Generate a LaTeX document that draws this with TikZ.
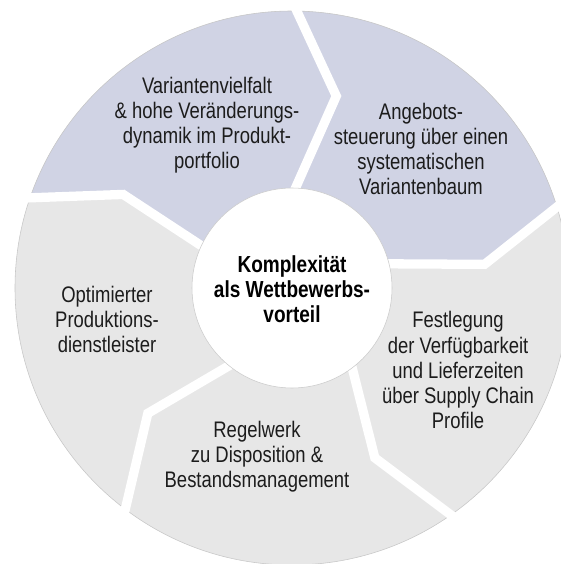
\documentclass[tikz,border=0pt]{standalone}
\usepackage{fontspec}
\setmainfont{Liberation Sans}[FakeStretch=0.82]
\usetikzlibrary{calc}

\definecolor{segblue}{RGB}{208,211,228}
\definecolor{seggrey}{RGB}{231,231,231}
\definecolor{txtdark}{RGB}{28,28,28}

\tikzset{
	seglabel/.style={align=center, text=txtdark, font=\fontsize{16}{17.8}\selectfont},
	corelabel/.style={align=center, text=black, font=\fontsize{16.5}{17.8}\selectfont\bfseries},
	gapline/.style={white, line width=6.6pt, line join=miter},
}

\begin{document}
\begin{tikzpicture}[x=0.025cm, y=0.025cm]
			%%%%% START %%%%%
			\useasboundingbox (-292, -276) rectangle (268, 288);
			
			% ring, grey first, then the two blue arrows on top
			\fill[seggrey] (0, 0) circle (277);
			\begin{scope}
				\clip (0, 0) circle (277);
				\fill[segblue] (0, 0) -- (155:100) -- (151:193) -- (161:277) -- (130:450) -- (90:450) -- (50:450) -- (17:277) -- (7:194) -- (14:100) -- cycle;
			\end{scope}
			\draw[black!22, line width=0.4pt] (0, 0) circle (277);
			
			% white chevron gaps between the arrows
			\foreach \a/\b/\r/\c in {88/77/197/89, 14/7/194/17, -53/-64/189/-55, -129/-139/191/-127, 155/151/193/161}
				\draw[gapline] ($(\b:\r)!1.15!(\a:100)$) -- (\b:\r) -- ($(\b:\r)!1.3!(\c:277)$);
			
			% hub
			\draw[fill=white, draw=black!20, line width=0.4pt] (0, 0) circle (100);
			
			\node[corelabel] (hub) at (0, -1) {Komplexität\\als Wettbewerbs-\\vorteil};
			
			\node[seglabel] (vielfalt) at (-85, 163) {Variantenvielfalt\\\& hohe Veränderungs-\\dynamik im Produkt-\\portfolio};
			\node[seglabel] (angebot) at (129, 139) {Angebots-\\steuerung über einen\\systematischen\\Variantenbaum};
			\node[seglabel] (festlegung) at (166, -82) {Festlegung\\der Verfügbarkeit\\und Lieferzeiten\\über Supply Chain\\Profile};
			\node[seglabel] (regelwerk) at (-35, -169) {Regelwerk\\zu Disposition \&\\Bestandsmanagement};
			\node[seglabel] (produktion) at (-185, -31) {Optimierter\\Produktions-\\dienstleister};
			
			%%%%% END %%%%%
\end{tikzpicture}
\end{document}
